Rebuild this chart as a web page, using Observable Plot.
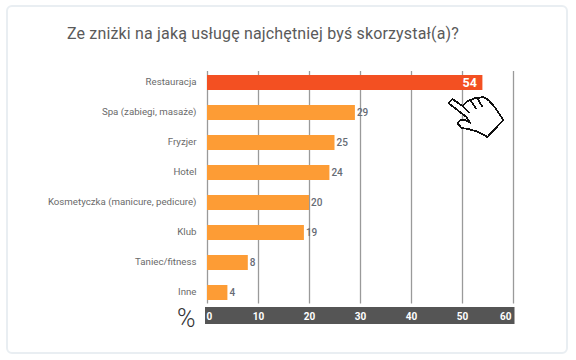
<!DOCTYPE html>
<html lang="pl">
<head>
<meta charset="utf-8">
<script src="https://cdn.jsdelivr.net/npm/d3@7"></script>
<script src="https://cdn.jsdelivr.net/npm/@observablehq/plot@0.6"></script>
<style>
html,body{margin:0;padding:0;background:#fff;}
#page{position:relative;width:576px;height:360px;overflow:hidden;}
#card{position:absolute;left:6px;top:5px;width:558px;height:345px;border:2px solid #e9eef2;border-radius:6px;box-sizing:content-box;}
#title{position:absolute;left:67px;top:24px;font:400 16px Roboto,sans-serif;letter-spacing:.16px;color:#5a5a5a;white-space:nowrap;line-height:20px;}
#chart{position:absolute;left:0;top:0;}
svg{background:transparent!important;display:block;}
</style>
</head>
<body>
<div id="page">
<div id="card"></div>
<div id="chart"></div>
<div id="title">Ze zniżki na jaką usługę najchętniej byś skorzystał(a)?</div>
</div>
<script>
const categories = ["Restauracja","Spa (zabiegi, masaże)","Fryzjer","Hotel","Kosmetyczka (manicure, pedicure)","Klub","Taniec/fitness","Inne"];
const values = [54,29,25,24,20,19,8,4];
const ticks = [0,10,20,30,40,50,60];
const rows = categories.map((c,i)=>({c, v:values[i]}));
const topRow = rows.slice(0,1), restRows = rows.slice(1);

const hand = (index, scales) => {
  const ax = scales.x(54), ay = scales.y("Restauracja") + 30;
  const outline = [[-34,5.5],[-30,1.5],[-20,8.5],[-15,3.5],[-12,2.5],[-7,0.5],[-5,0.5],[1,-0.5],[6,2.5],[13,10.5],[21,22.5],[5,39.5],[-4,34.5],[-14,31.5],[-21,30.5],[-25,25.5],[-22,22.5],[-17,22.5],[-13,24.5],[-16,19.5]];
  const path = d3.line()(outline) + "Z";
  const lines = "M-20,8.5L-13,15.5M-12,2.5L-6,11.5M-5,0.5L0,9.5";
  const g = d3.create("svg:g").attr("transform", `translate(${ax},${ay})`)
    .attr("fill","none").attr("stroke","#111").attr("stroke-width",1.8).attr("shape-rendering","crispEdges");
  g.append("path").attr("d",path).attr("fill","#fff");
  g.append("path").attr("d",lines);
  return g.node();
};

const chart = Plot.plot({
  width:576, height:360,
  marginLeft:207, marginRight:63, marginTop:67.5, marginBottom:52.5,
  style:{background:"transparent", fontFamily:"Roboto, sans-serif"},
  x:{domain:[0,60], axis:null},
  y:{domain:categories, padding:0, round:false, axis:null},
  marks:[
    Plot.rectX([{a:0,b:60}],{x1:"a",x2:"b",fill:"#555555",insetTop:239.5,insetBottom:-16.5,insetLeft:-2,insetRight:-1.5}),
    Plot.ruleX(ticks,{stroke:"#9a9a9a",strokeWidth:1.3,insetTop:3.5,insetBottom:4}),
    Plot.barX(restRows,{x:"v",y:"c",fill:"#fd9c35",insetTop:7.5,insetBottom:7.5}),
    Plot.barX(topRow,{x:"v",y:"c",fill:"#f35022",insetTop:7.5,insetBottom:7.5}),
    Plot.text(categories,{x:0,y:d=>d,text:d=>d,textAnchor:"end",dx:-11,dy:-1,fontSize:9.7,fill:"#6a6a6a"}),
    Plot.text(restRows,{x:"v",y:"c",text:"v",textAnchor:"start",dx:1.5,fontSize:10,fontWeight:500,fill:"#666b75"}),
    Plot.text(topRow,{x:"v",y:"c",text:"v",textAnchor:"end",dx:-6,fontSize:12.5,fontWeight:700,fill:"#fff"}),
    Plot.text(ticks.slice(0,1),{x:d=>d,text:d=>d,frameAnchor:"bottom",lineAnchor:"middle",dy:8.5,textAnchor:"start",dx:-1,fontSize:10,fontWeight:700,fill:"#fff"}),
    Plot.text(ticks.slice(1,-1),{x:d=>d,text:d=>d,frameAnchor:"bottom",lineAnchor:"middle",dy:8.5,fontSize:10,fontWeight:700,fill:"#fff"}),
    Plot.text(ticks.slice(-1),{x:d=>d,text:d=>d,frameAnchor:"bottom",lineAnchor:"middle",dy:8.5,textAnchor:"end",dx:-2,fontSize:10,fontWeight:700,fill:"#fff"}),
    Plot.text(["%"],{x:0,text:d=>d,frameAnchor:"bottom",lineAnchor:"middle",dy:11,dx:-12,textAnchor:"end",fontSize:25,fontWeight:300,fill:"#333"}),
    hand
  ]
});
document.getElementById("chart").appendChild(chart);
</script>
</body>
</html>
